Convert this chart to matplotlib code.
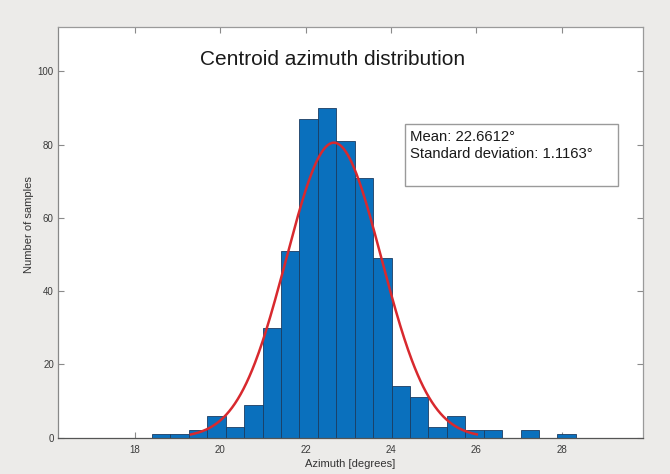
import numpy as np
import matplotlib
matplotlib.use("Agg")
import matplotlib.pyplot as plt
from matplotlib.patches import Rectangle

plt.rcParams['font.family'] = ['Liberation Sans', 'DejaVu Sans']

# histogram
bin_start = 18.40
bin_width = 0.4316
counts = [1, 1, 2, 6, 3, 9, 30, 51, 87, 90, 81, 71, 49, 14, 11, 3, 6, 2, 2, 0, 2, 0, 1]

mean_az = 22.6612
std_az = 1.1163

x_ticks = [18, 20, 22, 24, 26, 28]
y_ticks = [0, 20, 40, 60, 80, 100]

fig = plt.figure(figsize=(6.7, 4.74), dpi=100)
fig.patch.set_facecolor('#ecebe9')
ax = fig.add_axes([0.0866, 0.0766, 0.9597 - 0.0866, 0.9424 - 0.0766])
ax.set_facecolor('white')

counts = np.array(counts)
lefts = bin_start + bin_width * np.arange(len(counts))
nz = counts > 0
ax.bar(lefts[nz], counts[nz], width=bin_width, align='edge',
       color='#0a70bd', edgecolor='#1b3d62', linewidth=0.6, zorder=2)

# fitted normal, scaled to counts, drawn over +-3 sigma
xs = np.linspace(mean_az - 3 * std_az, mean_az + 3 * std_az, 300)
pdf = np.exp(-0.5 * ((xs - mean_az) / std_az) ** 2) / (std_az * np.sqrt(2 * np.pi))
ax.plot(xs, pdf * counts.sum() * bin_width, color='#d8292e', lw=1.8, zorder=3)

ax.set_xlim(16.2, 29.9)
ax.set_ylim(0, 112)
ax.set_xticks(x_ticks)
ax.set_yticks(y_ticks)
ax.tick_params(direction='in', length=4, width=0.8, color='#8a8a8a',
               labelsize=7, labelcolor='#3a3a3a', top=True, right=True)
ax.tick_params(axis='y', pad=3)
ax.tick_params(axis='x', pad=5)
for s in ax.spines.values():
    s.set_color('#9a9a9a')
    s.set_linewidth(0.9)
ax.spines['bottom'].set_color('#555555')
ax.spines['left'].set_color('#888888')

ax.set_xlabel('Azimuth [degrees]', fontsize=8, color='#333333', labelpad=3)
ax.set_ylabel('Number of samples', fontsize=8, color='#333333', labelpad=3)
ax.yaxis.set_label_coords(-0.041, 0.52)

fig.text(0.497, 0.874, 'Centroid azimuth distribution', fontsize=15,
         ha='center', va='center', color='#1a1a1a')

fig.patches.append(Rectangle((405 / 670, 1 - 185.7 / 474), 212.7 / 670, 61.4 / 474,
                             transform=fig.transFigure, facecolor='white',
                             edgecolor='#9a9a9a', linewidth=1.0, zorder=5))
fig.text(410 / 670, 1 - 137 / 474, u'Mean: %.4f\u00b0' % mean_az, fontsize=10.7,
         ha='left', va='center', color='#1a1a1a', zorder=6)
fig.text(410 / 670, 1 - 153.5 / 474, u'Standard deviation: %.4f\u00b0' % std_az, fontsize=10.7,
         ha='left', va='center', color='#1a1a1a', zorder=6)

fig.savefig('out.png', dpi=100, facecolor=fig.get_facecolor())
